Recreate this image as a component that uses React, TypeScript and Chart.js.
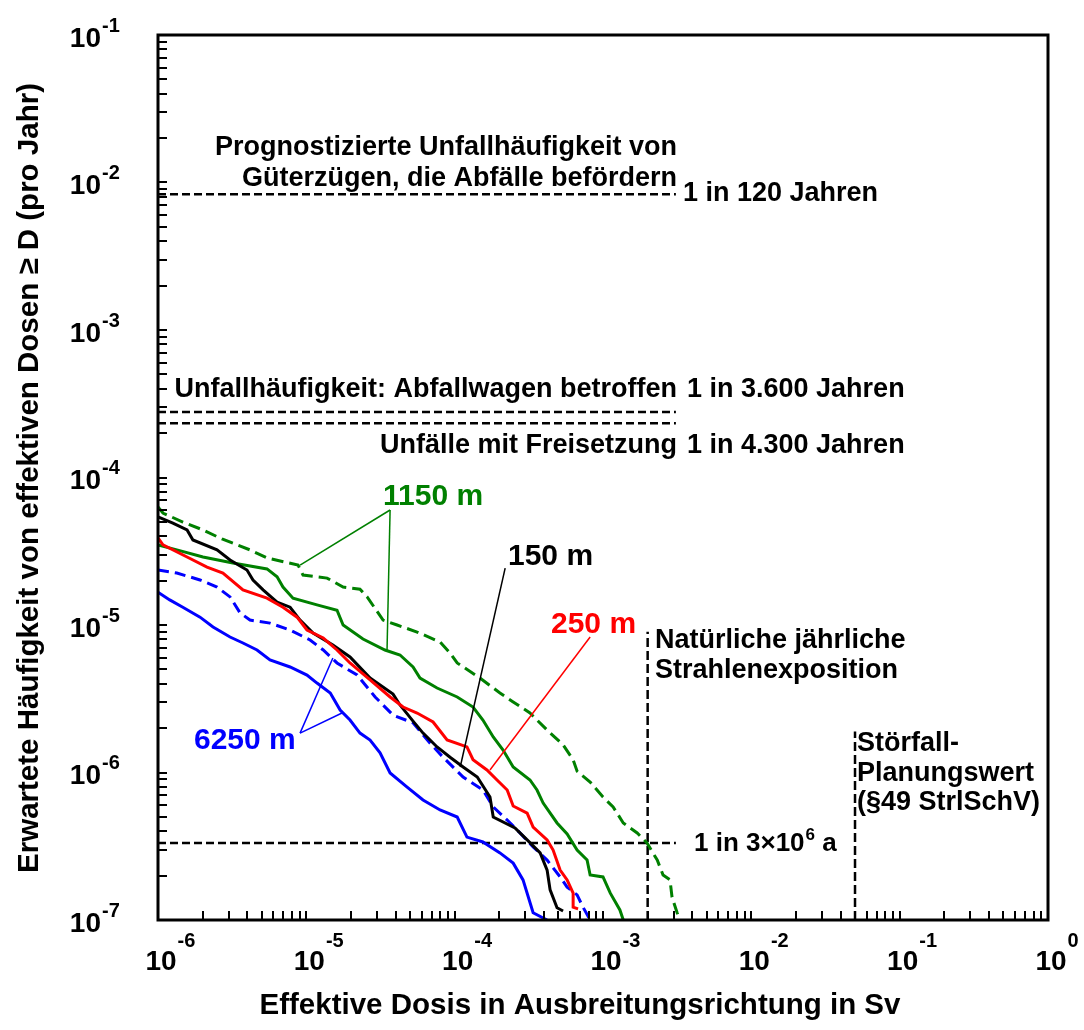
import { useEffect, useRef } from "react";
import { Chart, registerables } from "chart.js";

Chart.register(...registerables);

// ---------- data (dose in Sv, expected frequency per year) ----------
const greenDashedDose = [1.0e-6, 1.08e-6, 1.47e-6, 2.01e-6, 2.7e-6, 4.17e-6, 5.43e-6, 8.79e-6, 9.5e-6, 1.38e-5, 1.77e-5, 2.3e-5, 2.57e-5, 3.29e-5, 4.09e-5, 5.58e-5, 7.97e-5, 9.31e-5, 1.04e-4, 1.48e-4, 2.02e-4, 2.48e-4, 3.22e-4, 4.2e-4, 5.38e-4, 6.29e-4, 6.69e-4, 8.19e-4, 1.0e-3, 1.17e-3, 1.37e-3, 1.7e-3, 1.98e-3, 2.32e-3, 2.54e-3, 2.83e-3, 2.92e-3, 3.16e-3, 3.31e-3];
const greenDashedFreq = [6.31e-5, 5.74e-5, 4.99e-5, 4.41e-5, 3.83e-5, 3.23e-5, 2.85e-5, 2.55e-5, 2.18e-5, 2.08e-5, 1.81e-5, 1.75e-5, 1.55e-5, 1.08e-5, 1.0e-5, 8.96e-6, 7.67e-6, 6.46e-6, 5.53e-6, 4.37e-6, 3.46e-6, 3.01e-6, 2.53e-6, 1.94e-6, 1.54e-6, 1.22e-6, 1.02e-6, 8.62e-7, 6.82e-7, 5.84e-7, 4.55e-7, 3.89e-7, 3.33e-7, 2.55e-7, 2.02e-7, 1.87e-7, 1.43e-7, 1.12e-7, 1.0e-7];

const greenSolidDose = [1.0e-6, 1.34e-6, 2.01e-6, 3.2e-6, 5.43e-6, 6.35e-6, 6.96e-6, 8.13e-6, 1.18e-5, 1.61e-5, 1.77e-5, 2.41e-5, 3.39e-5, 4.28e-5, 5.24e-5, 5.84e-5, 7.61e-5, 1.04e-4, 1.33e-4, 1.55e-4, 1.82e-4, 2.12e-4, 2.48e-4, 3.22e-4, 3.59e-4, 3.95e-4, 4.9e-4, 5.73e-4, 6.69e-4, 7.81e-4, 8.19e-4, 1.0e-3, 1.12e-3, 1.3e-3, 1.37e-3];
const greenSolidFreq = [3.49e-5, 3.23e-5, 2.89e-5, 2.63e-5, 2.4e-5, 2.12e-5, 1.81e-5, 1.52e-5, 1.37e-5, 1.26e-5, 1.0e-5, 8.04e-6, 6.77e-6, 6.26e-6, 5.19e-6, 4.37e-6, 3.74e-6, 3.25e-6, 2.78e-6, 2.27e-6, 1.74e-6, 1.42e-6, 1.09e-6, 8.9e-7, 7.61e-7, 6.21e-7, 4.55e-7, 3.83e-7, 2.98e-7, 2.55e-7, 2.02e-7, 1.96e-7, 1.52e-7, 1.17e-7, 1.0e-7];

const blackDose = [1.0e-6, 1.26e-6, 1.57e-6, 1.72e-6, 2.5e-6, 3.06e-6, 3.98e-6, 4.37e-6, 5.11e-6, 6.35e-6, 7.77e-6, 9.07e-6, 1.11e-5, 1.51e-5, 1.97e-5, 2.69e-5, 3.84e-5, 4.28e-5, 5.24e-5, 6.12e-5, 7.61e-5, 9.31e-5, 1.14e-4, 1.42e-4, 1.73e-4, 1.82e-4, 2.55e-4, 3.08e-4, 3.77e-4, 4.2e-4, 4.4e-4, 4.9e-4, 5.38e-4];
const blackFreq = [5.4e-5, 4.91e-5, 4.41e-5, 3.77e-5, 3.23e-5, 2.76e-5, 2.36e-5, 2.02e-5, 1.73e-5, 1.43e-5, 1.32e-5, 1.08e-5, 8.83e-6, 7.32e-6, 6.07e-6, 4.37e-6, 3.4e-6, 2.87e-6, 2.23e-6, 1.85e-6, 1.49e-6, 1.27e-6, 1.09e-6, 9.32e-7, 6.82e-7, 4.99e-7, 4.21e-7, 3.49e-7, 2.85e-7, 2.18e-7, 1.6e-7, 1.21e-7, 1.15e-7];

const redDose = [1.0e-6, 1.08e-6, 1.57e-6, 2.14e-6, 2.74e-6, 3.74e-6, 5.43e-6, 6.96e-6, 8.66e-6, 1.01e-5, 1.3e-5, 1.61e-5, 1.97e-5, 2.69e-5, 3.67e-5, 4.49e-5, 5.58e-5, 7.15e-5, 8.89e-5, 1.21e-4, 1.33e-4, 1.65e-4, 1.93e-4, 2.26e-4, 2.48e-4, 3.08e-4, 3.38e-4, 4.2e-4, 4.61e-4, 5.14e-4, 5.73e-4, 6.29e-4, 6.29e-4, 6.79e-4];
const redFreq = [3.89e-5, 3.49e-5, 2.89e-5, 2.47e-5, 2.25e-5, 1.73e-5, 1.52e-5, 1.32e-5, 1.13e-5, 9.25e-6, 8.16e-6, 6.77e-6, 5.53e-6, 4.24e-6, 3.25e-6, 2.78e-6, 2.53e-6, 2.2e-6, 1.66e-6, 1.49e-6, 1.22e-6, 1.04e-6, 8.9e-7, 7.61e-7, 5.93e-7, 5.31e-7, 4.27e-7, 3.49e-7, 2.98e-7, 2.18e-7, 1.87e-7, 1.52e-7, 1.22e-7, 1.19e-7];

const blueDashedDose = [1.0e-6, 1.34e-6, 1.92e-6, 2.5e-6, 3.06e-6, 3.57e-6, 4.17e-6, 5.69e-6, 7.77e-6, 1.06e-5, 1.3e-5, 1.61e-5, 2.2e-5, 2.91e-5, 3.84e-5, 5.24e-5, 6.83e-5, 8.35e-5, 1.14e-4, 1.55e-4, 1.82e-4, 2.26e-4, 2.76e-4, 3.38e-4, 4.2e-4, 5.14e-4, 5.73e-4, 6.69e-4, 7.34e-4, 8.19e-4];
const blueDashedFreq = [2.36e-5, 2.25e-5, 2.02e-5, 1.81e-5, 1.55e-5, 1.21e-5, 1.08e-5, 1.03e-5, 9.25e-6, 7.91e-6, 6.77e-6, 5.53e-6, 4.58e-6, 3.25e-6, 2.45e-6, 2.17e-6, 1.58e-6, 1.27e-6, 9.32e-7, 7.61e-7, 5.84e-7, 4.76e-7, 3.89e-7, 3.13e-7, 2.55e-7, 1.96e-7, 1.67e-7, 1.48e-7, 1.22e-7, 1.0e-7];

const blueSolidDose = [1.0e-6, 1.2e-6, 1.47e-6, 1.92e-6, 2.35e-6, 3.06e-6, 3.74e-6, 4.65e-6, 5.69e-6, 7.77e-6, 1.01e-5, 1.18e-5, 1.45e-5, 1.69e-5, 1.97e-5, 2.3e-5, 2.69e-5, 3.14e-5, 3.67e-5, 4.78e-5, 6.12e-5, 7.97e-5, 1.04e-4, 1.21e-4, 1.55e-4, 2.02e-4, 2.48e-4, 2.89e-4, 3.38e-4, 4.2e-4];
const blueSolidFreq = [1.67e-5, 1.48e-5, 1.32e-5, 1.13e-5, 9.69e-6, 8.29e-6, 7.55e-6, 6.77e-6, 5.79e-6, 5.19e-6, 4.58e-6, 4.04e-6, 3.46e-6, 2.65e-6, 2.27e-6, 1.85e-6, 1.66e-6, 1.36e-6, 9.92e-7, 7.97e-7, 6.51e-7, 5.57e-7, 4.99e-7, 3.65e-7, 3.38e-7, 2.85e-7, 2.43e-7, 1.87e-7, 1.12e-7, 1.0e-7];

// reference lines
const refHorizontalFreq = [8.33e-3, 2.78e-4, 2.33e-4, 3.33e-7]; // 1/120, 1/3600, 1/4300, 1/3e6
const refHorizontalDoseRange = [1e-6, 3.1e-3];
const refVerticalDose = [2e-3, 5e-2]; // natural exposure, Störfall-Planungswert
const refVerticalFreqTop = [9e-6, 1.9e-6];
const refVerticalFreqBottom = 1e-7;

// axis ranges & tick labels (exponents of 10)
const xTickExponents = [-6, -5, -4, -3, -2, -1, 0];
const yTickExponents = [-7, -6, -5, -4, -3, -2, -1];

// leader lines: [fromDose, fromFreq, toDose, toFreq]
const leaderGreen = [[3.67e-5, 6.02e-5, 9.07e-6, 2.55e-5], [3.67e-5, 6.02e-5, 3.5e-5, 6.77e-6]];
const leaderBlack = [[2.19e-4, 2.43e-5, 1.09e-4, 1.09e-6]];
const leaderRed = [[8.19e-4, 8.29e-6, 1.73e-4, 1.04e-6]];
const leaderBlue = [[9.07e-6, 1.85e-6, 1.51e-5, 5.97e-6], [9.07e-6, 1.85e-6, 1.74e-5, 2.53e-6]];

const GREEN = "#008000";
const RED = "#ff0000";
const BLUE = "#0000ff";
const BLACK = "#000000";
const FONT = "'Liberation Sans', Arial, Helvetica, sans-serif";

type Txt = { t: string; x: number; y: number; align: CanvasTextAlign; color: string; size: number };
const texts: Txt[] = [
  { t: "Prognostizierte Unfallhäufigkeit von", x: 677, y: 148, align: "right", color: BLACK, size: 27 },
  { t: "Güterzügen, die Abfälle befördern", x: 677, y: 179, align: "right", color: BLACK, size: 27 },
  { t: "1 in 120 Jahren", x: 683, y: 194, align: "left", color: BLACK, size: 27 },
  { t: "Unfallhäufigkeit: Abfallwagen betroffen", x: 677, y: 390, align: "right", color: BLACK, size: 27 },
  { t: "1 in 3.600 Jahren", x: 687, y: 390, align: "left", color: BLACK, size: 27 },
  { t: "Unfälle mit Freisetzung", x: 677, y: 446, align: "right", color: BLACK, size: 27 },
  { t: "1 in 4.300 Jahren", x: 687, y: 446, align: "left", color: BLACK, size: 27 },
  { t: "Natürliche jährliche", x: 655, y: 641, align: "left", color: BLACK, size: 27 },
  { t: "Strahlenexposition", x: 655, y: 671, align: "left", color: BLACK, size: 27 },
  { t: "Störfall-", x: 857, y: 744, align: "left", color: BLACK, size: 27 },
  { t: "Planungswert", x: 857, y: 774, align: "left", color: BLACK, size: 27 },
  { t: "(§49 StrlSchV)", x: 857, y: 803, align: "left", color: BLACK, size: 27 },
  { t: "1150 m", x: 383, y: 497, align: "left", color: GREEN, size: 30 },
  { t: "150 m", x: 508, y: 557, align: "left", color: BLACK, size: 30 },
  { t: "250 m", x: 551, y: 625, align: "left", color: RED, size: 30 },
  { t: "6250 m", x: 194, y: 741, align: "left", color: BLUE, size: 30 },
];

const pts = (xs: number[], ys: number[]) => xs.map((x, i) => ({ x, y: ys[i] }));

function drawLeaders(ctx: CanvasRenderingContext2D, xs: any, ys: any, list: number[][], color: string) {
  ctx.strokeStyle = color;
  ctx.lineWidth = 1.5;
  ctx.setLineDash([]);
  for (const [x1, y1, x2, y2] of list) {
    ctx.beginPath();
    ctx.moveTo(xs.getPixelForValue(x1), ys.getPixelForValue(y1));
    ctx.lineTo(xs.getPixelForValue(x2), ys.getPixelForValue(y2));
    ctx.stroke();
  }
}

const decor = {
  id: "decor",
  afterDatasetsDraw(chart: any) {
    const { ctx, chartArea: a, scales } = chart;
    const xs = scales.x;
    const ys = scales.y;
    ctx.save();

    drawLeaders(ctx, xs, ys, leaderGreen, GREEN);
    drawLeaders(ctx, xs, ys, leaderBlack, BLACK);
    drawLeaders(ctx, xs, ys, leaderRed, RED);
    drawLeaders(ctx, xs, ys, leaderBlue, BLUE);

    // inward ticks
    ctx.strokeStyle = BLACK;
    ctx.lineWidth = 2;
    ctx.setLineDash([]);
    for (let i = 0; i < xTickExponents.length - 1; i++) {
      for (let m = 1; m <= 9; m++) {
        const px = Math.round(xs.getPixelForValue(m * Math.pow(10, xTickExponents[i])));
        if (px <= a.left + 2) continue;
        ctx.beginPath();
        ctx.moveTo(px, a.bottom);
        ctx.lineTo(px, a.bottom - 9);
        ctx.stroke();
      }
    }
    for (let i = 0; i < yTickExponents.length - 1; i++) {
      for (let m = 1; m <= 9; m++) {
        const py = Math.round(ys.getPixelForValue(m * Math.pow(10, yTickExponents[i])));
        if (py >= a.bottom - 2) continue;
        ctx.beginPath();
        ctx.moveTo(a.left, py);
        ctx.lineTo(a.left + 9, py);
        ctx.stroke();
      }
    }

    // frame
    ctx.lineWidth = 3;
    ctx.strokeRect(a.left, a.top, a.right - a.left, a.bottom - a.top);

    // tick labels
    ctx.fillStyle = BLACK;
    ctx.textBaseline = "middle";
    const big = `bold 28px ${FONT}`;
    const small = `bold 20px ${FONT}`;
    for (const e of xTickExponents) {
      const px = xs.getPixelForValue(Math.pow(10, e));
      ctx.font = big;
      ctx.textAlign = "center";
      const cx = px + 3;
      ctx.fillText("10", cx, 962);
      const w = ctx.measureText("10").width;
      ctx.font = small;
      ctx.textAlign = "left";
      ctx.fillText(String(e), cx + w / 2 + 1, 941);
    }
    for (const e of yTickExponents) {
      const py = ys.getPixelForValue(Math.pow(10, e));
      ctx.font = big;
      ctx.textAlign = "right";
      ctx.fillText("10", 101, py + 4);
      ctx.font = small;
      ctx.textAlign = "left";
      ctx.fillText(String(e), 102, py - 9);
    }

    // axis titles
    ctx.font = `bold 29.5px ${FONT}`;
    ctx.textAlign = "center";
    ctx.fillText("Effektive Dosis in Ausbreitungsrichtung in Sv", 580, 1006);
    ctx.save();
    ctx.translate(30, 478);
    ctx.rotate(-Math.PI / 2);
    ctx.fillText("Erwartete Häufigkeit von effektiven Dosen ≥ D (pro Jahr)", 0, 0);
    ctx.restore();

    // annotation texts
    for (const t of texts) {
      ctx.font = `bold ${t.size}px ${FONT}`;
      ctx.fillStyle = t.color;
      ctx.textAlign = t.align;
      ctx.fillText(t.t, t.x, t.y);
    }

    // "1 in 3×10^6 a"
    ctx.fillStyle = BLACK;
    ctx.textAlign = "left";
    ctx.font = `bold 26px ${FONT}`;
    let x0 = 694;
    const s1 = "1 in 3×10";
    ctx.fillText(s1, x0, 844);
    x0 += ctx.measureText(s1).width + 1;
    ctx.font = `bold 17px ${FONT}`;
    ctx.fillText("6", x0, 835);
    x0 += ctx.measureText("6").width;
    ctx.font = `bold 26px ${FONT}`;
    ctx.fillText(" a", x0, 844);

    ctx.restore();
  },
};

export default function App() {
  const ref = useRef<HTMLCanvasElement | null>(null);

  useEffect(() => {
    if (!ref.current) return;
    const refDatasets: any[] = [];
    refHorizontalFreq.forEach((f) => {
      refDatasets.push({
        data: refHorizontalDoseRange.map((d) => ({ x: d, y: f })),
        borderColor: BLACK,
        borderWidth: 2.5,
        borderDash: [8, 4],
        pointRadius: 0,
      });
    });
    refVerticalDose.forEach((d, i) => {
      refDatasets.push({
        data: [
          { x: d, y: refVerticalFreqBottom },
          { x: d, y: refVerticalFreqTop[i] },
        ],
        borderColor: BLACK,
        borderWidth: 2.5,
        borderDash: [9, 4],
        pointRadius: 0,
      });
    });

    const series = (dx: number[], fy: number[], color: string, dash: number[]) => ({
      data: pts(dx, fy),
      borderColor: color,
      borderWidth: 3,
      borderDash: dash,
      pointRadius: 0,
      tension: 0,
    });

    const chart = new Chart(ref.current, {
      type: "line",
      data: {
        datasets: [
          series(blueSolidDose, blueSolidFreq, BLUE, []),
          series(redDose, redFreq, RED, []),
          series(blackDose, blackFreq, BLACK, []),
          series(blueDashedDose, blueDashedFreq, BLUE, [11, 6]),
          series(greenSolidDose, greenSolidFreq, GREEN, []),
          series(greenDashedDose, greenDashedFreq, GREEN, [12, 6]),
          ...refDatasets,
        ],
      },
      options: {
        responsive: false,
        animation: false,
        devicePixelRatio: 1,
        layout: { padding: { left: 0, top: 35, right: 36, bottom: 0 } },
        plugins: { legend: { display: false }, tooltip: { enabled: false } },
        elements: { point: { radius: 0 }, line: { tension: 0 } },
        scales: {
          x: {
            type: "logarithmic",
            min: Math.pow(10, xTickExponents[0]),
            max: Math.pow(10, xTickExponents[xTickExponents.length - 1]),
            ticks: { display: false },
            grid: { display: false },
            border: { display: false },
            afterFit: (s: any) => {
              s.height = 110;
            },
          },
          y: {
            type: "logarithmic",
            min: Math.pow(10, yTickExponents[0]),
            max: Math.pow(10, yTickExponents[yTickExponents.length - 1]),
            ticks: { display: false },
            grid: { display: false },
            border: { display: false },
            afterFit: (s: any) => {
              s.width = 158;
            },
          },
        },
      } as any,
      plugins: [decor as any],
    });
    return () => chart.destroy();
  }, []);

  return (
    <div style={{ position: "fixed", left: 0, top: 0, width: 1084, height: 1030, background: "#fff" }}>
      <canvas ref={ref} width={1084} height={1030} style={{ display: "block", width: 1084, height: 1030 }} />
    </div>
  );
}
